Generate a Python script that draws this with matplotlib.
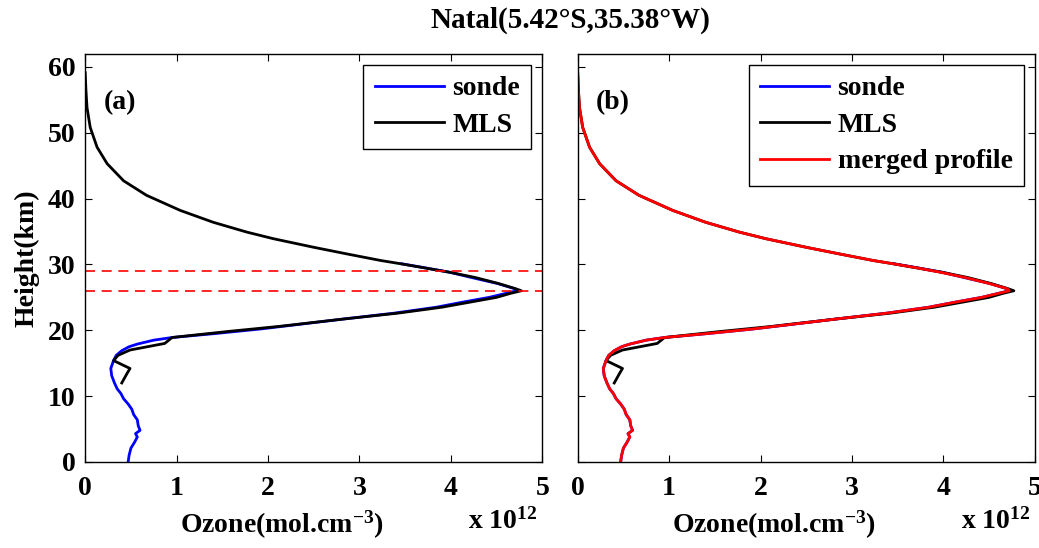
"""Natal ozone profiles: sonde vs MLS, and merged profile"""
import matplotlib
matplotlib.use('Agg')
import matplotlib.pyplot as plt

FS = 20
plt.rcParams.update({'font.family': 'serif', 'font.serif': ['Liberation Serif'],
                     'font.weight': 'bold', 'font.size': FS,
                     'xtick.direction': 'in', 'ytick.direction': 'in',
                     'xtick.top': True, 'ytick.right': True,
                     'axes.linewidth': 1.0, 'mathtext.default': 'regular'})

# ozone in units of 1e12 mol/cm3, height in km
sonde_h = [0, 1.0, 2.1, 3.0, 3.8, 4.3, 4.8, 5.5, 6.4, 7.2, 8.0, 8.8, 9.6, 10.4, 11.1, 12.0,
           13.1, 14.2, 15.4, 16.2, 16.9, 17.5, 17.9, 18.5, 18.9, 19.5, 20.2, 20.8, 21.7,
           22.6, 23.5, 24.3, 25.0, 25.6, 26.0, 26.3, 27.1, 27.9, 28.8, 29.5, 30.1]
sonde_o = [0.47, 0.48, 0.50, 0.54, 0.57, 0.55, 0.60, 0.58, 0.57, 0.53, 0.51, 0.47, 0.42, 0.39,
           0.35, 0.32, 0.29, 0.28, 0.31, 0.34, 0.40, 0.48, 0.57, 0.75, 0.95, 1.42, 1.92, 2.28,
           2.82, 3.38, 3.84, 4.14, 4.42, 4.60, 4.72, 4.70, 4.51, 4.26, 3.99, 3.71, 3.46]

mls_h = [12.0, 13.5, 14.2, 15.4, 16.2, 17.0, 18.0, 18.9, 19.8, 20.6, 21.7, 22.6, 23.5, 24.3,
         25.0, 25.6, 26.0, 26.3, 27.1, 28.0, 28.8, 29.5, 30.1, 30.6, 31.6, 32.6, 33.9, 34.9,
         36.4, 38.2, 40.5, 42.7, 45.3, 47.8, 50.8, 53.8, 56.5, 59.1]
mls_o = [0.40, 0.46, 0.49, 0.31, 0.36, 0.49, 0.87, 0.95, 1.55, 2.13, 2.82, 3.42, 3.90, 4.22,
         4.50, 4.65, 4.77, 4.71, 4.52, 4.27, 3.99, 3.70, 3.45, 3.23, 2.86, 2.50, 2.06, 1.77,
         1.40, 1.04, 0.67, 0.42, 0.24, 0.13, 0.055, 0.02, 0.008, 0.0]

merged_h = [0, 1.0, 2.1, 3.0, 3.8, 4.3, 4.8, 5.5, 6.4, 7.2, 8.0, 8.8, 9.6, 10.4, 11.1, 12.0,
            13.1, 14.2, 15.4, 16.2, 16.9, 17.5, 17.9, 18.5, 18.9, 19.5, 20.2, 20.8, 21.7,
            22.6, 23.5, 24.3, 25.0, 25.6, 26.0, 26.3, 27.1, 28.0, 28.8, 29.5, 30.1, 30.6,
            31.6, 32.6, 33.9, 34.9, 36.4, 38.2, 40.5, 42.7, 45.3, 47.8, 50.8, 53.8, 56.5,
            59.1]
merged_o = [0.47, 0.48, 0.50, 0.54, 0.57, 0.55, 0.60, 0.58, 0.57, 0.53, 0.51, 0.47, 0.42, 0.39,
            0.35, 0.32, 0.29, 0.28, 0.31, 0.34, 0.40, 0.48, 0.57, 0.75, 0.95, 1.42, 1.92, 2.28,
            2.82, 3.38, 3.84, 4.14, 4.42, 4.60, 4.72, 4.70, 4.50, 4.24, 3.97, 3.70, 3.45, 3.23,
            2.86, 2.50, 2.06, 1.77, 1.40, 1.04, 0.67, 0.42, 0.24, 0.13, 0.055, 0.02, 0.008,
            0.0]

merge_levels = [26, 29]

fig = plt.figure(figsize=(10.39, 5.48), dpi=100)
ax1 = fig.add_axes([0.082, 0.157, 0.440, 0.745])
ax2 = fig.add_axes([0.556, 0.157, 0.440, 0.745])

lw = 2.0
ax1.plot(sonde_o, sonde_h, color='blue', lw=lw, label='sonde')
ax1.plot(mls_o, mls_h, color='black', lw=lw, label='MLS')
for lev in merge_levels:
    ax1.axhline(lev, color='red', ls=(0, (6, 4)), lw=1.2)

ax2.plot(sonde_o, sonde_h, color='blue', lw=lw, label='sonde')
ax2.plot(mls_o, mls_h, color='black', lw=lw, label='MLS')
ax2.plot(merged_o, merged_h, color='red', lw=lw, label='merged profile')

for ax, tag in [(ax1, '(a)'), (ax2, '(b)')]:
    ax.set_xlim(0, 5)
    ax.set_ylim(0, 62)
    ax.set_xticks(range(6))
    ax.set_yticks(range(0, 61, 10))
    ax.tick_params(length=5)
    ax.tick_params(axis='x', pad=10)
    ax.tick_params(axis='y', pad=7)
    ax.text(0.2, 54.5, tag, fontsize=FS, fontweight='bold', va='center')
    ax.set_xlabel('Ozone(mol.cm$^{-3}$)', fontweight='bold')
    ax.xaxis.set_label_coords(0.43, -0.115)
    leg = ax.legend(loc='upper right', handlelength=2.5, fancybox=False, framealpha=1,
                    edgecolor='black', borderaxespad=0.4, handletextpad=0.3,
                    labelspacing=0.4, borderpad=0.4,
                    prop={'weight': 'bold', 'size': FS})
    leg.get_frame().set_linewidth(1.0)

ax2.set_yticklabels([])
ax1.set_ylabel('Height(km)', fontweight='bold', labelpad=6)

fig.text(0.45, 0.035, r'x 10$^{12}$', fontsize=FS, fontweight='bold')
fig.text(0.925, 0.035, r'x 10$^{12}$', fontsize=FS, fontweight='bold')
fig.text(0.549, 0.962, 'Natal(5.42°S,35.38°W)', ha='center', va='center',
         fontsize=FS + 1, fontweight='bold')

fig.savefig('out.png', dpi=100, facecolor='white')
